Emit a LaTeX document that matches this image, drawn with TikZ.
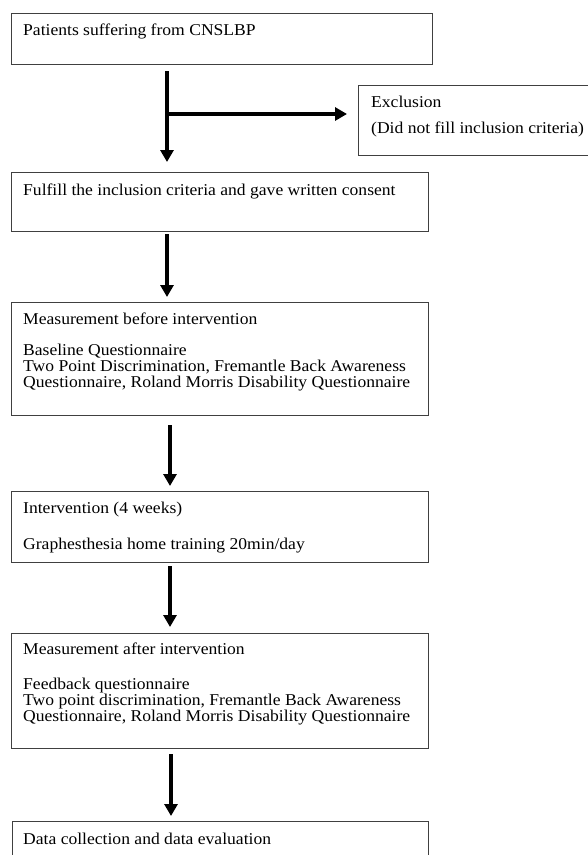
\documentclass[tikz,border=0pt]{standalone}
\usepackage{fontspec}
\setmainfont{Liberation Serif}[FakeStretch=1.065]
\usetikzlibrary{arrows.meta}
\begin{document}
\begin{tikzpicture}[x=1pt,y=-1pt,
  box/.style={draw=black!75, line width=1pt, rectangle, inner sep=0pt, outer sep=0pt, anchor=north west},
  txt/.style={anchor=base west, inner sep=0pt, font=\fontsize{16.5}{16.5}\selectfont},
  arr/.style={line width=3.5pt, -{Triangle[width=13pt,length=12pt]}}]
\useasboundingbox (0,0) rectangle (588,855);
\clip (0,0) rectangle (588,855);

% boxes
\node[box, minimum width=421pt, minimum height=51pt]  (b1) at (11,13)  {};
\node[box, minimum width=417pt, minimum height=59pt]  (b2) at (11,172) {};
\node[box, minimum width=250pt, minimum height=70pt]  (ex) at (358,85) {};
\node[box, minimum width=417pt, minimum height=113pt] (b3) at (11,302) {};
\node[box, minimum width=417pt, minimum height=71pt]  (b4) at (11,491) {};
\node[box, minimum width=417pt, minimum height=115pt] (b5) at (11,633) {};
\node[box, minimum width=416pt, minimum height=60pt]  (b6) at (12,821) {};

% texts
\node[txt] (t1) at (23,35) {Patients suffering from CNSLBP};
\node[txt] (te1) at (371,107) {Exclusion};
\node[txt] (te2) at (371,133) {(Did not fill inclusion criteria)};
\node[txt] (t2) at (23,195) {Fulfill the inclusion criteria and gave written consent};
\node[txt] (t3a) at (23,324) {Measurement before intervention};
\node[txt] (t3b) at (23,355) {Baseline Questionnaire};
\node[txt] (t3c) at (23,371) {Two Point Discrimination, Fremantle Back Awareness};
\node[txt] (t3d) at (23,387) {Questionnaire, Roland Morris Disability Questionnaire};
\node[txt] (t4a) at (23,513) {Intervention (4 weeks)};
\node[txt] (t4b) at (23,549) {Graphesthesia home training 20min/day};
\node[txt] (t5a) at (23,654) {Measurement after intervention};
\node[txt] (t5b) at (23,689) {Feedback questionnaire};
\node[txt] (t5c) at (23,705) {Two point discrimination, Fremantle Back Awareness};
\node[txt] (t5d) at (23,721) {Questionnaire, Roland Morris Disability Questionnaire};
\node[txt] (t6) at (23,844) {Data collection and data evaluation};

% arrows
\coordinate (j) at (167,114);
\coordinate (x2) at (167,0);
\coordinate (x3) at (170,0);
\coordinate (x4) at (170,0);
\coordinate (x5) at (171,0);
\draw[arr, shorten <=7pt, shorten >=10pt] (b1.south -| j) -- (b2.north -| j);
\draw[arr, shorten >=11pt] (j) -- (ex.west |- j);
\draw[arr, shorten <=3pt, shorten >=5pt] (b2.south -| x2) -- (b3.north -| x2);
\draw[arr, shorten <=10pt, shorten >=5pt] (b3.south -| x3) -- (b4.north -| x3);
\draw[arr, shorten <=4pt, shorten >=6pt] (b4.south -| x4) -- (b5.north -| x4);
\draw[arr, shorten <=6pt, shorten >=5pt] (b5.south -| x5) -- (b6.north -| x5);
\end{tikzpicture}
\end{document}
